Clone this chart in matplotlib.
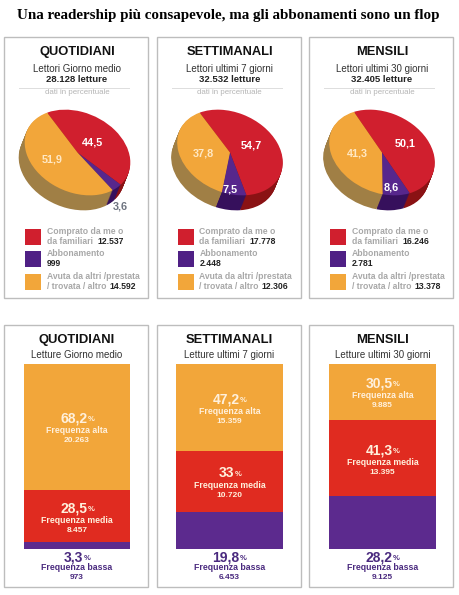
import numpy as np
import matplotlib
matplotlib.use("Agg")
import matplotlib.pyplot as plt
from matplotlib.patches import Rectangle
from matplotlib.transforms import Affine2D

W, H = 460, 595

title = "Una readership più consapevole, ma gli abbonamenti sono un flop"
names = ["QUOTIDIANI", "SETTIMANALI", "MENSILI"]

# top row
pie_sub = ["Lettori Giorno medio", "Lettori ultimi 7 giorni", "Lettori ultimi 30 giorni"]
pie_tot = ["28.128 letture", "32.532 letture", "32.405 letture"]
pie_vals = [[44.5, 3.6, 51.9], [54.7, 7.5, 37.8], [50.1, 8.6, 41.3]]
pie_labels = [["44,5", "3,6", "51,9"], ["54,7", "7,5", "37,8"], ["50,1", "8,6", "41,3"]]
comprato = ["12.537", "17.778", "16.246"]
abbon = ["999", "2.448", "2.781"]
avuta = ["14.592", "12.306", "13.378"]

# bottom row
bar_sub = ["Letture Giorno medio", "Letture ultimi 7 giorni", "Letture ultimi 30 giorni"]
alta = [68.2, 47.2, 30.5]
media = [28.5, 33, 41.3]
bassa = [3.3, 19.8, 28.2]
alta_txt = ["68,2", "47,2", "30,5"]
media_txt = ["28,5", "33", "41,3"]
bassa_txt = ["3,3", "19,8", "28,2"]
alta_n = ["20.263", "15.359", "9.885"]
media_n = ["8.457", "10.720", "13.395"]
bassa_n = ["973", "6.453", "9.125"]

ORANGE = "#f2a63a"
RED = "#d01f2e"
PURPLE = "#57278c"
BAR_RED = "#e02b20"
BAR_PURPLE = "#5c2a8e"
SIDES = ["#8a1214", "#36105c", "#a07f45"]
GREY = "#a8a8a8"
DARK = "#222222"
CREAM = "#fff0dc"
VIOLA = "#4a2a7f"
SANS = "Liberation Sans"

fig = plt.figure(figsize=(W / 100, H / 100), dpi=100, facecolor="white")


def px_axes(z):
    a = fig.add_axes([0, 0, 1, 1], facecolor="none", zorder=z)
    a.set_xlim(0, W)
    a.set_ylim(H, 0)
    a.axis("off")
    return a


back = px_axes(0)
ax = px_axes(5)


def txt(x, y, s, size, color=DARK, weight="normal", ha="center", family=SANS):
    return ax.text(x, y, s, fontsize=size, color=color, fontweight=weight, ha=ha,
                   va="center", family=family)


def pct(cx, y, num, color):
    # number plus small % sign, centred together
    t1 = txt(cx, y, num, 10, color, "bold", "left")
    t2 = txt(cx, y + 1, "%", 5.5, color, "bold", "left")
    r = fig.canvas.get_renderer()
    w1 = t1.get_window_extent(r).width
    w2 = t2.get_window_extent(r).width
    t1.set_x(cx - (w1 + w2) / 2)
    t2.set_x(cx - (w1 + w2) / 2 + w1 + 0.5)


txt(228, 15.5, title, 10.85, "black", "bold", family="Liberation Serif")

panel_x = [4.5, 157, 309.5]
pie_cx = [77.5, 230, 382]
pie_start = [143, 143, 140]
label_pos = [[(93, 142.5), (120.5, 206.5), (52, 159)],
             [(251, 145), (230, 189), (203, 154)],
             [(405, 144), (391, 188), (357, 154)]]

for i in range(3):
    x0 = panel_x[i]
    cx = x0 + 72.5
    back.add_patch(Rectangle((x0, 37), 144, 261, fc="white", ec="#bdbdbd", lw=1.0))
    txt(cx, 52, names[i], 9.3, "#111111", "bold")
    txt(cx, 69, pie_sub[i], 7.0, "#333333")
    txt(cx, 80, pie_tot[i], 6.8, DARK, "bold")
    back.plot([x0 + 15, x0 + 125], [87.5, 87.5], color="#dddddd", lw=0.7)
    txt(cx, 93, "dati in percentuale", 5.7, "#b5b5b5")

    # pie, tilted ellipse plus extruded side
    pax = fig.add_axes([0, 0, 1, 1], facecolor="none", zorder=1)
    base = Affine2D().scale(55, 40).rotate_deg(-24).translate(pie_cx[i], H - 152.5)
    for d in range(15, 0, -1):
        wedges, _ = pax.pie(pie_vals[i], colors=SIDES, startangle=pie_start[i],
                            counterclock=False, frame=False,
                            wedgeprops={"linewidth": 0})
        for w in wedges:
            w.set_transform(base + Affine2D().translate(-d * 0.4, -d) + pax.transData)
            w.set_clip_on(False)
    wedges, _ = pax.pie(pie_vals[i], colors=[RED, PURPLE, ORANGE], startangle=pie_start[i],
                        counterclock=False, frame=False, wedgeprops={"linewidth": 0})
    for w in wedges:
        w.set_transform(base + pax.transData)
        w.set_clip_on(False)
    pax.set_aspect("auto")
    pax.set_xlim(0, W)
    pax.set_ylim(0, H)
    pax.axis("off")

    # pie value labels
    for j in range(3):
        col = "#6e7480" if (i == 0 and j == 1) else ("#ffe8c4" if j == 2 else "white")
        txt(label_pos[i][j][0], label_pos[i][j][1], pie_labels[i][j], 7.8, col, "bold")

    # legend
    lx = x0 + 21
    tx = x0 + 42.5
    for y, c in zip([229, 251, 273.5], [RED, "#4f2085", ORANGE]):
        back.add_patch(Rectangle((lx, y), 16, 16, fc=c, ec="none"))
    txt(tx, 232, "Comprato da me o", 6.2, GREY, "bold", "left")
    txt(tx, 242, "da familiari", 6.2, GREY, "bold", "left")
    txt(tx + 50, 242, comprato[i], 6.2, DARK, "bold", "left")
    txt(tx, 254, "Abbonamento", 6.2, GREY, "bold", "left")
    txt(tx, 264, abbon[i], 6.2, DARK, "bold", "left")
    txt(tx, 276.5, "Avuta da altri /prestata", 6.2, GREY, "bold", "left")
    txt(tx, 286.5, "/ trovata / altro", 6.2, GREY, "bold", "left")
    txt(tx + 62, 286.5, avuta[i], 6.2, DARK, "bold", "left")

# bottom panels with stacked bars
bar_left = [23.5, 176, 329]
bar_w = 107
bar_top, bar_bottom = 363.5, 548.5
bpanel_x = [4.5, 157.5, 309.5]

for i in range(3):
    x0 = bpanel_x[i]
    cx = bar_left[i] + bar_w / 2
    back.add_patch(Rectangle((x0, 325), 144, 262, fc="white", ec="#bdbdbd", lw=1.0))
    txt(cx, 340, names[i], 9.4, "#111111", "bold")
    txt(cx, 354.5, bar_sub[i], 7.0, "#333333")

    bax = fig.add_axes([bar_left[i] / W, 1 - bar_bottom / H, bar_w / W, (bar_bottom - bar_top) / H], zorder=1)
    bax.bar([0], [bassa[i]], width=1, color=BAR_PURPLE)
    bax.bar([0], [media[i]], width=1, bottom=[bassa[i]], color=BAR_RED)
    bax.bar([0], [alta[i]], width=1, bottom=[bassa[i] + media[i]], color=ORANGE)
    bax.set_xlim(-0.5, 0.5)
    bax.set_ylim(0, 100)
    bax.axis("off")

    # labels: block of three lines in the middle of each segment
    scale = (bar_bottom - bar_top) / 100
    for ctr, p, name, n in [(bassa[i] + media[i] + alta[i] / 2, alta_txt[i], "Frequenza alta", alta_n[i]),
                            (bassa[i] + media[i] / 2, media_txt[i], "Frequenza media", media_n[i])]:
        y = bar_bottom - ctr * scale
        pct(cx, y - 8, p, CREAM)
        txt(cx, y + 4, name, 6.3, CREAM, "bold")
        txt(cx, y + 14, n, 6, CREAM, "bold")

    # bassa goes under the bar
    pct(cx, 557, bassa_txt[i], VIOLA)
    txt(cx, 568, "Frequenza bassa", 6.3, VIOLA, "bold")
    txt(cx, 577.5, bassa_n[i], 6, VIOLA, "bold")

fig.savefig("out.png", dpi=100, facecolor="white")
